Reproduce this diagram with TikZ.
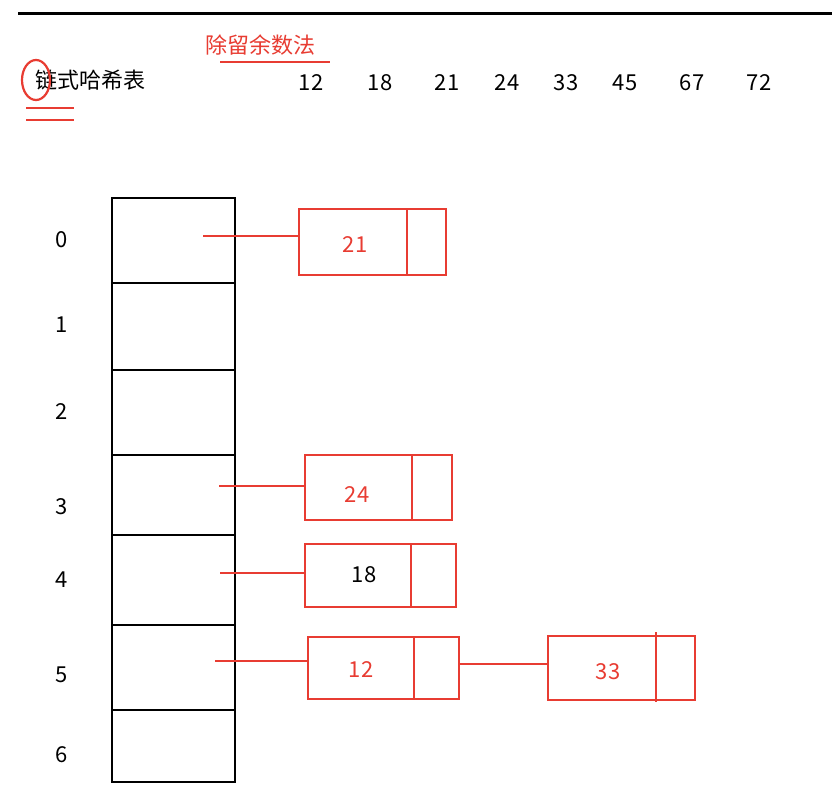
\documentclass[tikz,border=0pt]{standalone}
\usepackage{fontspec}
\setmainfont{Noto Sans CJK SC}
\definecolor{rd}{RGB}{232,60,50}
\begin{document}
\begin{tikzpicture}[x=1pt,y=-1pt,
  txt/.style={font=\fontsize{22}{24}\selectfont,inner sep=0},
  cell/.style={draw=black,line width=2.5pt},
  rbox/.style={draw=rd,line width=2.2pt,anchor=north west,inner sep=0},
  rline/.style={draw=rd,line width=2.2pt}]
\useasboundingbox (0,0) rectangle (832,797);
\fill[white] (0,0) rectangle (832,797);
\draw[line width=3pt] (18,14) -- (832,14);
\node[txt,text=rd] (title) at (260,45) {除留余数法};
\draw[rline] (220,62) -- (330,62);
\node[txt] (chain) at (90,80) {链式哈希表};
\draw[rline] (36,80) ellipse (14 and 20);
\draw[rline] (26,108) -- (74,108);
\draw[rline] (26,120) -- (74,120);
\foreach \v/\x in {12/311,18/380,21/447,24/507,33/566,45/625,67/692,72/759}
  \node[txt] (n\v) at (\x,83) {\v};
\foreach \a/\b [count=\i from 0] in {198/283,283/370,370/455,455/535,535/625,625/710,710/782}
  \draw[cell] (112,\a) rectangle (235,\b);
\foreach \l/\y in {0/240,1/325,2/412,3/507,4/580,5/675,6/755}
  \node[txt] (r\l) at (62,\y) {\l};
% boxes
\node[rbox,minimum width=147pt,minimum height=66pt] (b21) at (298,208) {};
\draw[rline] (407,208) -- (407,274);
\node[txt,text=rd] (t21) at (355,245) {21};
\node[rbox,minimum width=147pt,minimum height=65pt] (b24) at (304,454) {};
\draw[rline] (412,454) -- (412,519);
\node[txt,text=rd] (t24) at (357,495) {24};
\node[rbox,minimum width=151pt,minimum height=63pt] (b18) at (304,543) {};
\draw[rline] (411,543) -- (411,606);
\node[txt] (t18) at (364,575) {18};
\node[rbox,minimum width=151pt,minimum height=62pt] (b12) at (307,636) {};
\draw[rline] (414,636) -- (414,698);
\node[txt,text=rd] (t12) at (361,670) {12};
\node[rbox,minimum width=147pt,minimum height=64pt] (b33) at (547,635) {};
\draw[rline] (656,632) -- (656,702);
\node[txt,text=rd] (t33) at (608,672) {33};
\coordinate (c0) at (203,236);
\coordinate (c3) at (219,486);
\coordinate (c4) at (220,573);
\coordinate (c5) at (215,661);
\draw[rline] (c0) -- (b21.west |- c0);
\draw[rline] (c3) -- (b24.west |- c3);
\draw[rline] (c4) -- (b18.west |- c4);
\draw[rline] (c5) -- (b12.west |- c5);
\draw[rline] (b12.east |- 0,664) -- (b33.west |- 0,664);
\end{tikzpicture}
\end{document}
